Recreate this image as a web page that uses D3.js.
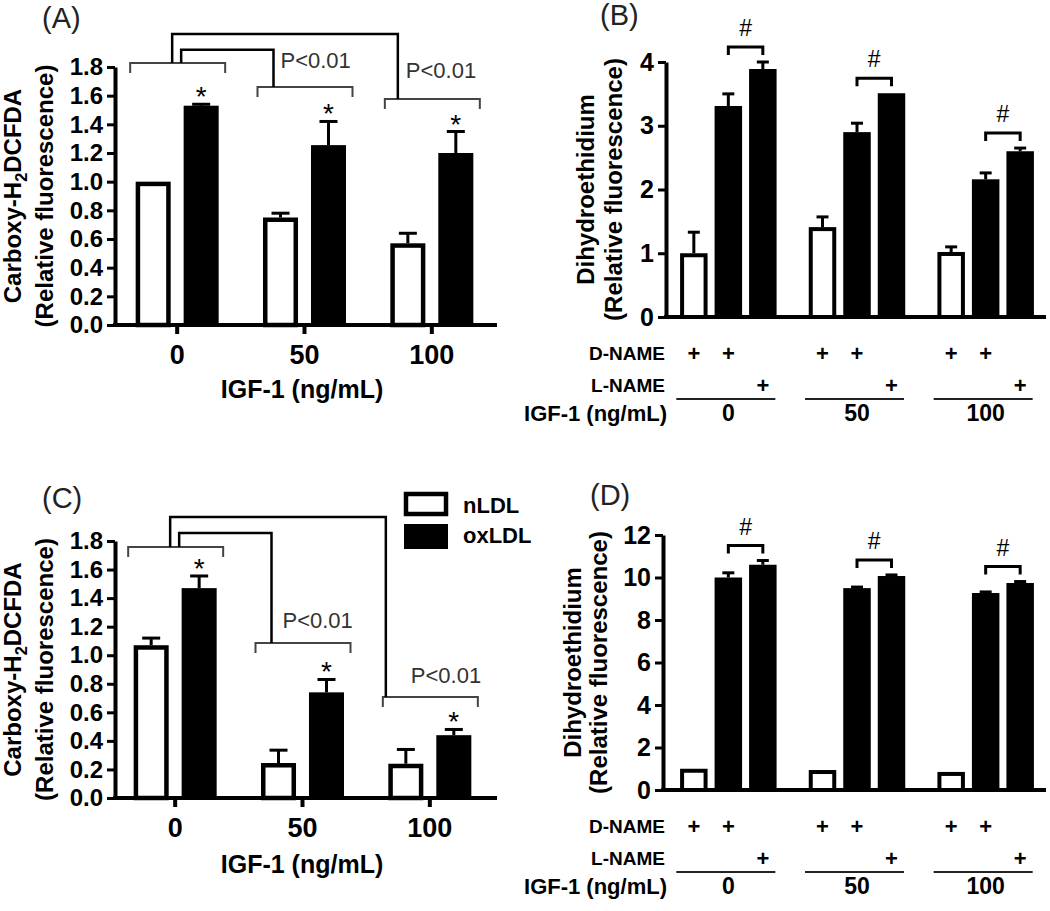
<!DOCTYPE html>
<html><head><meta charset="utf-8">
<script src="https://cdn.jsdelivr.net/npm/d3@7"></script>
<style>body{margin:0;background:#fff}</style>
</head><body>
<script>
// ---------------- data ----------------
const doses = ["0", "50", "100"];
const seriesAC = ["nLDL", "oxLDL"];
const ticksAC = [0, 0.2, 0.4, 0.6, 0.8, 1.0, 1.2, 1.4, 1.6, 1.8];

const A_nLDL = [1.00, 0.75, 0.57];
const A_nLDL_err = [0.00, 0.03, 0.07];
const A_oxLDL = [1.53, 1.255, 1.20];
const A_oxLDL_err = [0.01, 0.165, 0.15];

const C_nLDL = [1.07, 0.245, 0.24];
const C_nLDL_err = [0.05, 0.09, 0.10];
const C_oxLDL = [1.47, 0.74, 0.44];
const C_oxLDL_err = [0.085, 0.09, 0.04];

const seriesBD = ["nLDL+D-NAME", "oxLDL+D-NAME", "oxLDL+L-NAME"];
const dNameRow = ["+", "+", ""];
const lNameRow = ["", "", "+"];

const ticksB = [0, 1, 2, 3, 4];
const B_nLDL_D = [1.00, 1.41, 1.02];
const B_nLDL_D_err = [0.33, 0.16, 0.08];
const B_oxLDL_D = [3.31, 2.90, 2.16];
const B_oxLDL_D_err = [0.19, 0.14, 0.10];
const B_oxLDL_L = [3.89, 3.51, 2.60];
const B_oxLDL_L_err = [0.11, 0.00, 0.05];

const ticksD = [0, 2, 4, 6, 8, 10, 12];
const D_nLDL_D = [1.00, 0.94, 0.85];
const D_nLDL_D_err = [0, 0, 0];
const D_oxLDL_D = [10.00, 9.50, 9.27];
const D_oxLDL_D_err = [0.22, 0.05, 0.05];
const D_oxLDL_L = [10.60, 10.07, 9.74];
const D_oxLDL_L_err = [0.20, 0.05, 0.07];

const pLabel = "P<0.01";
const legendLabels = ["nLDL", "oxLDL"];

// ---------------- drawing ----------------
const FONT = '"Liberation Sans", Arial, Helvetica, sans-serif';
const svg = d3.select("body").append("svg")
  .attr("width", 1050).attr("height", 911)
  .style("font-family", FONT);
svg.append("rect").attr("width", 1050).attr("height", 911).attr("fill", "#fff");

function styleAxis(g, fs) {
  g.attr("font-family", FONT).attr("font-size", fs).attr("font-weight", "bold");
  g.select(".domain").attr("stroke", "#000").attr("stroke-width", 4);
  g.selectAll(".tick line").attr("stroke", "#000").attr("stroke-width", 3);
  g.selectAll(".tick text").attr("fill", "#000");
}

function yTitle(g, lines, xs, yc, fs) {
  lines.forEach((ln, i) => {
    const t = g.append("text")
      .attr("transform", `translate(${xs[i]},${yc}) rotate(-90)`)
      .attr("text-anchor", "middle")
      .attr("font-size", fs).attr("font-weight", "bold").attr("fill", "#000");
    ln.forEach(part => {
      const ts = t.append("tspan").text(part.t);
      if (part.sub) ts.attr("font-size", fs * 0.68).attr("dy", 6);
      if (part.after) ts.attr("dy", -6);
    });
  });
}

function panelAC(o) {
  const g = svg.append("g");
  const y = d3.scaleLinear().domain([0, 1.8]).range([o.yb, o.yt]);
  const x = d3.scaleBand().domain(doses).range([o.xl, o.xr]);
  const xs = d3.scaleBand().domain(seriesAC).range([-41.5, 41.5]).paddingInner(0.27);
  const bw = xs.bandwidth();
  const cx = d => x(d) + x.bandwidth() / 2;
  const rows = [];
  doses.forEach((d, i) => {
    rows.push({ d, s: "nLDL", v: o.n[i], e: o.ne[i] });
    rows.push({ d, s: "oxLDL", v: o.ox[i], e: o.oxe[i] });
  });
  const sw = 4.5;
  g.selectAll("rect.bar").data(rows).join("rect").attr("class", "bar")
    .attr("x", r => cx(r.d) + xs(r.s) + (r.s === "nLDL" ? sw / 2 : 0))
    .attr("width", r => r.s === "nLDL" ? bw - sw : bw)
    .attr("y", r => y(r.v) + (r.s === "nLDL" ? sw / 2 : 0))
    .attr("height", r => y(0) - y(r.v) - (r.s === "nLDL" ? sw / 2 : 0))
    .attr("fill", r => r.s === "nLDL" ? "#fff" : "#000")
    .attr("stroke", "#000").attr("stroke-width", r => r.s === "nLDL" ? sw : 0);
  // error bars
  const er = rows.filter(r => r.e > 0);
  g.selectAll("line.ev").data(er).join("line")
    .attr("x1", r => cx(r.d) + xs(r.s) + bw / 2).attr("x2", r => cx(r.d) + xs(r.s) + bw / 2)
    .attr("y1", r => y(r.v)).attr("y2", r => y(r.v + r.e))
    .attr("stroke", "#000").attr("stroke-width", 3);
  g.selectAll("line.ec").data(er).join("line")
    .attr("x1", r => cx(r.d) + xs(r.s) + bw / 2 - 9).attr("x2", r => cx(r.d) + xs(r.s) + bw / 2 + 9)
    .attr("y1", r => y(r.v + r.e)).attr("y2", r => y(r.v + r.e))
    .attr("stroke", "#000").attr("stroke-width", 3);
  // asterisks
  g.selectAll("text.ast").data(rows.filter(r => r.s === "oxLDL")).join("text")
    .attr("x", r => cx(r.d) + xs(r.s) + bw / 2).attr("y", r => y(r.v + r.e) + 2)
    .attr("text-anchor", "middle").attr("font-size", 28).attr("fill", "#000").text("*");
  // axes
  const ya = g.append("g").attr("transform", `translate(${o.axisX},0)`)
    .call(d3.axisLeft(y).tickValues(ticksAC).tickFormat(d3.format(".1f")).tickSize(8).tickSizeOuter(0).tickPadding(4));
  styleAxis(ya, 24);
  const xa = g.append("g").attr("transform", `translate(0,${o.yb})`)
    .call(d3.axisBottom(x).tickSize(9).tickSizeOuter(0).tickPadding(11));
  styleAxis(xa, 27);
  xa.select(".domain").remove();
  xa.selectAll(".tick line").attr("stroke-width", 4);
  g.append("line").attr("x1", o.axisX - 2).attr("x2", o.xEnd).attr("y1", o.yb).attr("y2", o.yb)
    .attr("stroke", "#000").attr("stroke-width", 4);
  g.append("text").attr("x", (o.axisX + o.xEnd) / 2 - 4).attr("y", o.yb + o.titleDy)
    .attr("text-anchor", "middle").attr("font-size", 25).attr("font-weight", "bold").text("IGF-1 (ng/mL)");
  // y title
  yTitle(g, [
    [{ t: "Carboxy-H" }, { t: "2", sub: true }, { t: "DCFDA", after: true }],
    [{ t: "(Relative fluorescence)" }]
  ], [o.titleX1, o.titleX2], (o.yb + o.yt) / 2, 24);
  // significance brackets
  const s = o.sig;
  const br = (d, v) => {
    const c = cx(d);
    g.append("path").attr("d", `M${c - 47},${y(v) + 10}V${y(v)}H${c + 48}V${y(v) + 10}`)
      .attr("fill", "none").attr("stroke", "#444").attr("stroke-width", 2);
  };
  br("0", s.b0); br("50", s.b50); br("100", s.b100);
  g.append("path").attr("d", `M${cx("0") - 5},${y(s.b0)}V${y(s.c1)}H${cx("100") - s.k100}V${y(s.b100)}`)
    .attr("fill", "none").attr("stroke", "#000").attr("stroke-width", 2.5);
  g.append("path").attr("d", `M${cx("0") + 4},${y(s.b0)}V${y(s.c2)}H${cx("50") - 31}V${y(s.b50)}`)
    .attr("fill", "none").attr("stroke", "#000").attr("stroke-width", 2.5);
  g.append("text").attr("x", cx("50") - s.p50x).attr("y", y(s.p1)).attr("font-size", 22).attr("fill", "#333").text(pLabel);
  g.append("text").attr("x", cx("100") - s.p100x).attr("y", y(s.p2)).attr("font-size", 22).attr("fill", "#333").text(pLabel);
  return g;
}

function panelBD(o) {
  const g = svg.append("g");
  const y = d3.scaleLinear().domain([0, o.max]).range([o.yb, o.yt]);
  const x = d3.scaleBand().domain(doses).range([664, 1050]);
  const xs = d3.scaleBand().domain(seriesBD).range([-48.25, 48.25]).paddingInner(0.203);
  const bw = xs.bandwidth();
  const cx = d => x(d) + x.bandwidth() / 2;
  const bc = (d, s) => cx(d) + xs(s) + bw / 2;
  const rows = [];
  doses.forEach((d, i) => {
    seriesBD.forEach((s, j) => rows.push({ d, s, j, v: o.vals[j][i], e: o.errs[j][i] }));
  });
  const sw = 4;
  g.selectAll("rect.bar").data(rows).join("rect")
    .attr("x", r => cx(r.d) + xs(r.s) + (r.j === 0 ? sw / 2 : 0))
    .attr("width", r => r.j === 0 ? bw - sw : bw)
    .attr("y", r => y(r.v) + (r.j === 0 ? sw / 2 : 0))
    .attr("height", r => y(0) - y(r.v) - (r.j === 0 ? sw / 2 : 0))
    .attr("fill", r => r.j === 0 ? "#fff" : "#000")
    .attr("stroke", "#000").attr("stroke-width", r => r.j === 0 ? sw : 0);
  const er = rows.filter(r => r.e > 0);
  g.selectAll("line.ev").data(er).join("line")
    .attr("x1", r => bc(r.d, r.s)).attr("x2", r => bc(r.d, r.s))
    .attr("y1", r => y(r.v)).attr("y2", r => y(r.v + r.e))
    .attr("stroke", "#000").attr("stroke-width", 3);
  g.selectAll("line.ec").data(er).join("line")
    .attr("x1", r => bc(r.d, r.s) - 6).attr("x2", r => bc(r.d, r.s) + 6)
    .attr("y1", r => y(r.v + r.e)).attr("y2", r => y(r.v + r.e))
    .attr("stroke", "#000").attr("stroke-width", 3);
  // # brackets
  doses.forEach((d, i) => {
    const top = Math.min(y(o.vals[1][i] + o.errs[1][i]), y(o.vals[2][i] + o.errs[2][i])) - 15;
    const x1 = bc(d, seriesBD[1]), x2 = bc(d, seriesBD[2]);
    g.append("path").attr("d", `M${x1},${top + 8}V${top}H${x2}V${top + 8}`)
      .attr("fill", "none").attr("stroke", "#000").attr("stroke-width", 3);
    g.append("text").attr("x", (x1 + x2) / 2).attr("y", top - 11).attr("text-anchor", "middle")
      .attr("font-size", 23).attr("fill", "#000").text("#");
  });
  // axes
  const ya = g.append("g").attr("transform", `translate(${o.axisX},0)`)
    .call(d3.axisLeft(y).tickValues(o.ticks).tickFormat(d3.format("d")).tickSize(8).tickSizeOuter(0).tickPadding(4));
  styleAxis(ya, 25);
  g.append("line").attr("x1", o.axisX - 2).attr("x2", 1046).attr("y1", o.yb).attr("y2", o.yb)
    .attr("stroke", "#000").attr("stroke-width", 4);
  yTitle(g, [[{ t: "Dihydroethidium" }], [{ t: "(Relative fluorescence)" }]],
    [o.titleX1, o.titleX2], (o.yb + o.yt) / 2, 24);
  // treatment rows
  const rowY = [o.yb + 36, o.yb + 68, o.yb + 96];
  g.append("text").attr("x", 665).attr("y", rowY[0]).attr("dy", "0.35em").attr("text-anchor", "end")
    .attr("font-size", 19).attr("font-weight", "bold").text("D-NAME");
  g.append("text").attr("x", 665).attr("y", rowY[1]).attr("dy", "0.35em").attr("text-anchor", "end")
    .attr("font-size", 19).attr("font-weight", "bold").text("L-NAME");
  g.append("text").attr("x", 667).attr("y", rowY[2]).attr("dy", "0.35em").attr("text-anchor", "end")
    .attr("font-size", 22).attr("font-weight", "bold").text("IGF-1 (ng/mL)");
  doses.forEach(d => {
    seriesBD.forEach((s, j) => {
      if (dNameRow[j]) g.append("text").attr("x", bc(d, s)).attr("y", rowY[0]).attr("dy", "0.35em")
        .attr("text-anchor", "middle").attr("font-size", 22).attr("font-weight", "bold").text(dNameRow[j]);
      if (lNameRow[j]) g.append("text").attr("x", bc(d, s)).attr("y", rowY[1]).attr("dy", "0.35em")
        .attr("text-anchor", "middle").attr("font-size", 22).attr("font-weight", "bold").text(lNameRow[j]);
    });
    g.append("line").attr("x1", cx(d) - 52).attr("x2", cx(d) + 47).attr("y1", o.yb + 82).attr("y2", o.yb + 82)
      .attr("stroke", "#222").attr("stroke-width", 2);
    g.append("text").attr("x", cx(d)).attr("y", rowY[2]).attr("dy", "0.35em").attr("text-anchor", "middle")
      .attr("font-size", 23).attr("font-weight", "bold").text(d);
  });
}

// Panel A
panelAC({
  yb: 325, yt: 67, xl: 113.5, xr: 495.5, axisX: 115, xEnd: 497, titleDy: 73,
  titleX1: 21, titleX2: 53,
  n: A_nLDL, ne: A_nLDL_err, ox: A_oxLDL, oxe: A_oxLDL_err,
  sig: { b0: 1.828, b50: 1.66, b100: 1.577, c1: 2.03, c2: 1.92, p1: 1.79, p2: 1.72, k100: 34, p50x: 24, p100x: 26 }
});
// Panel C
panelAC({
  yb: 798, yt: 541, xl: 111.5, xr: 493.5, axisX: 115, xEnd: 497, titleDy: 75,
  titleX1: 21, titleX2: 53,
  n: C_nLDL, ne: C_nLDL_err, ox: C_oxLDL, oxe: C_oxLDL_err,
  sig: { b0: 1.758, b50: 1.085, b100: 0.707, c1: 1.968, c2: 1.856, p1: 1.19, p2: 0.805, k100: 44, p50x: 20, p100x: 19 }
});
// Panel B
panelBD({
  yb: 317, yt: 62, max: 4, ticks: ticksB, axisX: 666, titleX1: 594, titleX2: 622,
  vals: [B_nLDL_D, B_oxLDL_D, B_oxLDL_L], errs: [B_nLDL_D_err, B_oxLDL_D_err, B_oxLDL_L_err]
});
// Panel D
panelBD({
  yb: 790, yt: 535, max: 12, ticks: ticksD, axisX: 663, titleX1: 581, titleX2: 607,
  vals: [D_nLDL_D, D_oxLDL_D, D_oxLDL_L], errs: [D_nLDL_D_err, D_oxLDL_D_err, D_oxLDL_L_err]
});

// legend (panel C)
const leg = svg.append("g");
leg.append("rect").attr("x", 406).attr("y", 494).attr("width", 40).attr("height", 20)
  .attr("fill", "#fff").attr("stroke", "#000").attr("stroke-width", 4.5);
leg.append("rect").attr("x", 404).attr("y", 524).attr("width", 44).attr("height", 25).attr("fill", "#000");
legendLabels.forEach((l, i) => leg.append("text").attr("x", 463).attr("y", 505 + i * 30).attr("dy", "0.35em")
  .attr("font-size", 22).attr("font-weight", "bold").text(l));

// panel letters
[["(A)", 42, 28], ["(B)", 600, 25], ["(C)", 42, 508], ["(D)", 590, 505]].forEach(p =>
  svg.append("text").attr("x", p[1]).attr("y", p[2]).attr("font-size", 29).attr("fill", "#222").text(p[0]));
</script>
</body></html>
